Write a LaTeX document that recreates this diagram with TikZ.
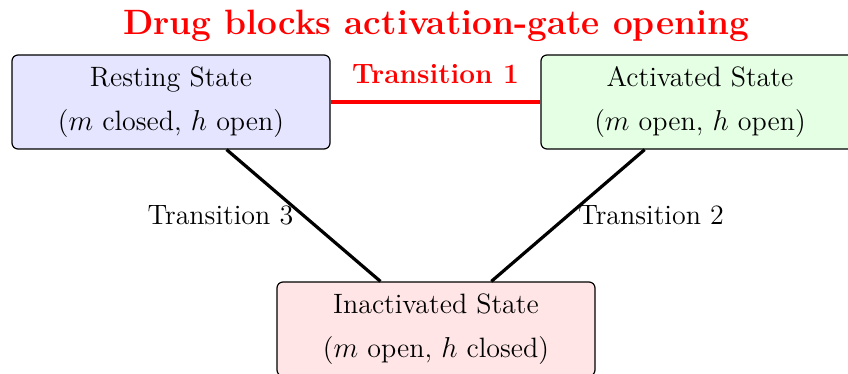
\documentclass[tikz,border=0pt]{standalone}
\usepackage{amsmath}
\usepackage{tikz}
\usetikzlibrary{arrows.meta, positioning, calc}

\tikzset{
  state/.style={draw, line width=0.6pt, rounded corners=3pt, minimum width=159pt,
    minimum height=47pt, align=center, font=\fontsize{14}{22}\selectfont},
  trans/.style={line width=1.6pt},
}

\begin{document}
\begin{tikzpicture}[x=0.5pt, y=-0.5pt]
  \useasboundingbox (0,0) rectangle (848,374);

  % === Titre ===
  \node[red, font=\fontsize{17.6}{20}\selectfont\bfseries] (title) at (436,26) {Drug blocks activation-gate opening};

  % === Les trois états ===
  \node[state, fill=blue!10] (rest) at (171,102) {Resting State\\($m$ closed, $h$ open)};
  \node[state, fill=green!10] (act) at (700,102) {Activated State\\($m$ open, $h$ open)};
  \node[state, fill=red!10] (inact) at (436,329) {Inactivated State\\($m$ open, $h$ closed)};

  % Transition 1 (bloquée par le médicament)
  \draw[trans, red] (rest) -- node[above=5pt, font=\fontsize{14}{16}\selectfont\bfseries]{Transition 1} (act);

  % Transitions 2 et 3
  \draw[trans] (act) -- node[right=1pt, font=\fontsize{14}{16}\selectfont]{Transition 2} (inact);
  \draw[trans] (rest) -- node[left=1pt, font=\fontsize{14}{16}\selectfont]{Transition 3} (inact);
\end{tikzpicture}
\end{document}
